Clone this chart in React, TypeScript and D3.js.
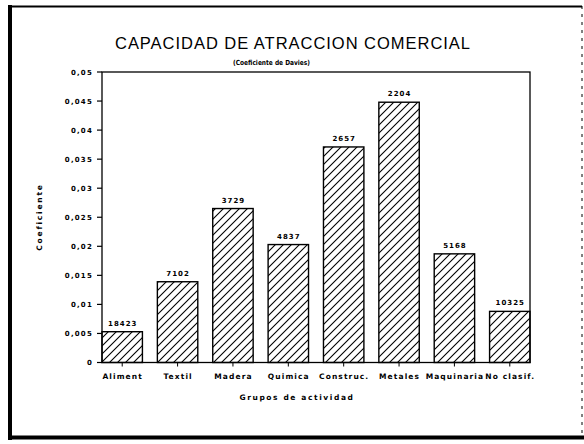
import React from "react";
import * as d3 from "d3";

const categories = ["Aliment", "Textil", "Madera", "Quimica", "Construc.", "Metales", "Maquinaria", "No clasif."];
const coefficients = [0.0053, 0.0139, 0.0265, 0.0203, 0.0371, 0.0448, 0.0187, 0.0088];
const barLabels = ["18423", "7102", "3729", "4837", "2657", "2204", "5168", "10325"];
const yTickValues = [0, 0.005, 0.01, 0.015, 0.02, 0.025, 0.03, 0.035, 0.04, 0.045, 0.05];

const W = 584;
const H = 444;

export default function App() {
  const x = d3.scaleBand<string>().domain(categories).range([102, 530]).paddingInner(0.27).paddingOuter(0);
  const y = d3.scaleLinear().domain([0, 0.05]).range([362.5, 72]);
  const locale = d3.formatLocale({ decimal: ",", thousands: ".", grouping: [3], currency: ["", ""] });
  const fmt = locale.format("~g");
  const small = "'DejaVu Sans', sans-serif";

  return (
    <svg
      width={W}
      height={H}
      viewBox={`0 0 ${W} ${H}`}
      style={{ position: "absolute", left: 0, top: 0, background: "#fff" }}
    >
      <defs>
        <pattern id="hatch" patternUnits="userSpaceOnUse" width={8} height={8}>
          <path d="M-2,2 L2,-2 M0,8 L8,0 M6,10 L10,6" stroke="#000" strokeWidth={1.1} />
        </pattern>
      </defs>
      <rect x={0} y={0} width={W} height={H} fill="#fff" />
      {/* outer frame */}
      <line x1={9} y1={6.5} x2={582} y2={6.5} stroke="#000" strokeWidth={2} />
      <line x1={10} y1={5} x2={10} y2={440} stroke="#000" strokeWidth={4} />
      <line x1={8} y1={437.5} x2={584} y2={437.5} stroke="#000" strokeWidth={4} />
      <line x1={582} y1={6} x2={582} y2={438} stroke="#000" strokeWidth={1} strokeDasharray="3 5" />

      {/* title */}
      <text x={115} y={48.5} textLength={355} lengthAdjust="spacing" fontFamily="'Liberation Sans', sans-serif" fontSize={16.5} fill="#000">
        CAPACIDAD DE ATRACCION COMERCIAL
      </text>
      <text x={233} y={65} textLength={77} lengthAdjust="spacingAndGlyphs" fontFamily={small} fontWeight="bold" fontSize={7} fill="#000">
        (Coeficiente de Davies)
      </text>

      {/* plot frame */}
      <rect x={102} y={y(0.05)} width={428} height={y(0) - y(0.05)} fill="none" stroke="#000" strokeWidth={1.3} />

      {/* bars */}
      {categories.map((c, i) => (
        <g key={c}>
          <rect
            x={x(c)!}
            y={y(coefficients[i])}
            width={x.bandwidth()}
            height={y(0) - y(coefficients[i])}
            fill="url(#hatch)"
            stroke="#000"
            strokeWidth={1.4}
          />
          <text
            x={x(c)! + x.bandwidth() / 2 + 0.5}
            y={y(coefficients[i]) - 6}
            textAnchor="middle"
            fontFamily={small}
            fontWeight="bold"
            fontSize={7}
            letterSpacing={1}
            fill="#000"
          >
            {barLabels[i]}
          </text>
          <line
            x1={x(c)! + x.bandwidth() / 2}
            x2={x(c)! + x.bandwidth() / 2}
            y1={y(0)}
            y2={y(0) + 4}
            stroke="#000"
            strokeWidth={1}
          />
          <text
            x={x(c)! + x.bandwidth() / 2 + 0.5}
            y={379}
            textAnchor="middle"
            fontFamily={small}
            fontWeight="bold"
            fontSize={7.5}
            letterSpacing={1.1}
            fill="#000"
          >
            {c}
          </text>
        </g>
      ))}

      {/* y axis ticks */}
      {yTickValues.map((t) => (
        <g key={t}>
          <line x1={97} x2={102} y1={y(t)} y2={y(t)} stroke="#000" strokeWidth={1.2} />
          <text x={93} y={y(t) + 2.5} textAnchor="end" fontFamily={small} fontWeight="bold" fontSize={7} letterSpacing={1.2} fill="#000">
            {fmt(t)}
          </text>
        </g>
      ))}

      {/* axis titles */}
      <text
        transform={`translate(42,217) rotate(-90)`}
        textAnchor="middle"
        fontFamily={small}
        fontWeight="bold"
        fontSize={7.5}
        letterSpacing={1.8}
        fill="#000"
      >
        Coeficiente
      </text>
      <text x={297} y={400} textAnchor="middle" fontFamily={small} fontWeight="bold" fontSize={7.5} letterSpacing={1.6} fill="#000">
        Grupos de actividad
      </text>
    </svg>
  );
}
